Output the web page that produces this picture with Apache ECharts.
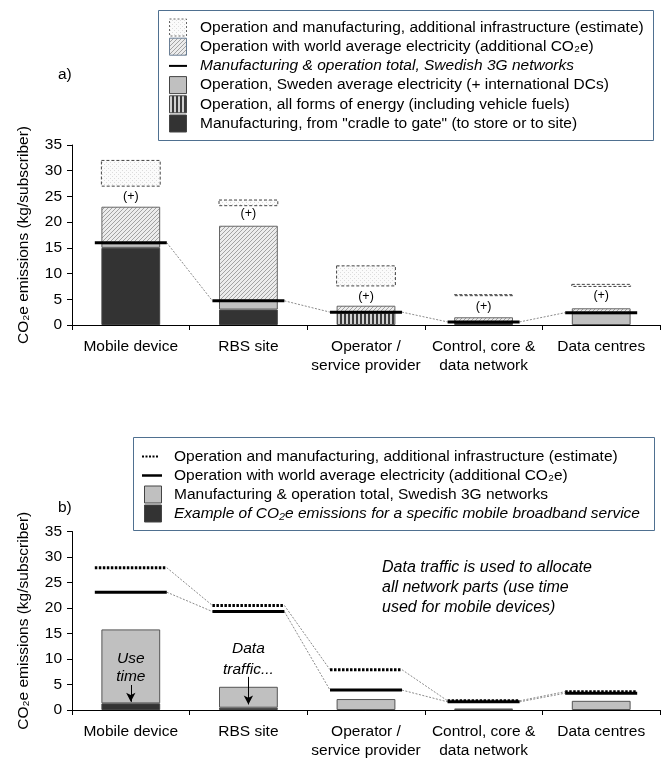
<!DOCTYPE html>
<html>
<head>
<meta charset="utf-8">
<script src="https://cdn.jsdelivr.net/npm/echarts@6/dist/echarts.min.js"></script>
<style>
  html, body { margin: 0; padding: 0; background: #fff; }
  #chart { width: 672px; height: 760px; }
</style>
</head>
<body>
<div id="chart"></div>
<script>
const FONT = 'Liberation Sans, Arial, DejaVu Sans, sans-serif'

const categories = ['Mobile device', 'RBS site', 'Operator /\nservice provider', 'Control, core &\ndata network', 'Data centres']
const yTicks = [0, 5, 10, 15, 20, 25, 30, 35]

// panel a) stacked parts, bottom to top
const manufA = [15, 3, 0, 0.6, 0]
const fuelsA = [0, 0, 2.4, 0, 0]
const swedenA = [0.9, 1.7, 0, 0, 2.3]
const worldA = [7.1, 14.6, 1.35, 0.9, 0.95]
const totalA = [16, 4.7, 2.5, 0.6, 2.4]
const estLowA = [27, 23.2, 7.6, 5.7, 7.5]
const estHighA = [32, 24.3, 11.5, 5.9, 7.9]
const plusA = [25, 21.6, 5.6, 3.6, 5.7]

// panel b)
const exampleB = [1.3, 0.45, 0, 0, 0]
const swedenB = [14.5, 4.1, 2.15, 0.3, 1.8]
const worldB = [23.1, 19.3, 3.9, 1.6, 3.3]
const estB = [27.9, 20.5, 7.9, 1.8, 3.6]

const annoText = ['Use', 'time', 'Data', 'traffic...']
const annoCat = [0, 0, 1, 1]
const annoY = [10, 6.5, 12, 8]
const arrowCat = [0, 1]
const arrowFrom = [4.9, 6.5]
const arrowTo = [1.6, 1.1]

const legendA = [
  'Operation and manufacturing, additional infrastructure (estimate)',
  'Operation with world average electricity (additional CO₂e)',
  'Manufacturing & operation total, Swedish 3G networks',
  'Operation, Sweden average electricity (+ international DCs)',
  'Operation, all forms of energy (including vehicle fuels)',
  'Manufacturing, from "cradle to gate" (to store or to site)',
]
const legendB = [
  'Operation and manufacturing, additional infrastructure (estimate)',
  'Operation with world average electricity (additional CO₂e)',
  'Manufacturing & operation total, Swedish 3G networks',
  'Example of CO₂e emissions for a specific mobile broadband service',
]
const noteB = ['Data traffic is used to allocate', 'all network parts (use time', 'used for mobile devices)']

const DARK = '#333333'
const GRAY = '#c0c0c0'

const makePattern = (w, h, draw) => {
  const c = document.createElement('canvas')
  c.width = w
  c.height = h
  draw(c.getContext('2d'))
  return { image: c, repeat: 'repeat' }
}

const hatch = makePattern(4, 4, (ctx) => {
  ctx.fillStyle = '#ececec'
  ctx.fillRect(0, 0, 4, 4)
  ctx.strokeStyle = '#9a9a9a'
  ctx.lineWidth = 0.9
  ctx.beginPath()
  ctx.moveTo(0, 4); ctx.lineTo(4, 0)
  ctx.moveTo(-1, 1); ctx.lineTo(1, -1)
  ctx.moveTo(3, 5); ctx.lineTo(5, 3)
  ctx.stroke()
})

const stripes = makePattern(4, 4, (ctx) => {
  ctx.fillStyle = '#d0d0d0'
  ctx.fillRect(0, 0, 4, 4)
  ctx.fillStyle = '#3a3a3a'
  ctx.fillRect(0, 0, 2, 4)
})

const dots = makePattern(4, 4, (ctx) => {
  ctx.fillStyle = '#fbfbfb'
  ctx.fillRect(0, 0, 4, 4)
  ctx.fillStyle = '#dcdcdc'
  ctx.fillRect(0, 0, 1, 1)
  ctx.fillRect(2, 2, 1, 1)
})

const empty = (arr) => arr.map((v) => (v ? v : '-'))

const levelRender = (values, style) => (params, api) => {
  const i = api.value(0)
  const band = api.size([1, 0])[0]
  const half = band * 0.306
  const p = api.coord([i, api.value(1)])
  const children = [{
    type: 'line',
    shape: { x1: p[0] - half, y1: p[1], x2: p[0] + half, y2: p[1] },
    style: Object.assign({ stroke: '#000', lineWidth: 3 }, style),
    z2: 10,
  }]
  if (i > 0) {
    const q = api.coord([i - 1, values[i - 1]])
    children.push({
      type: 'line',
      shape: { x1: q[0] + half, y1: q[1], x2: p[0] - half, y2: p[1] },
      style: { stroke: '#8a8a8a', lineWidth: 1, lineDash: [2, 1.5] },
    })
  }
  return { type: 'group', children }
}

const estRender = (params, api) => {
  const i = api.value(0)
  const band = api.size([1, 0])[0]
  const half = band * 0.25
  const top = api.coord([i, api.value(2)])
  const bot = api.coord([i, api.value(1)])
  return {
    type: 'rect',
    shape: { x: top[0] - half, y: top[1], width: half * 2, height: Math.max(bot[1] - top[1], 1) },
    style: { fill: dots, stroke: '#444', lineWidth: 1, lineDash: [3, 2] },
  }
}

const textRender = (texts, fontStyle) => (params, api) => {
  const p = api.coord([api.value(0), api.value(1)])
  return {
    type: 'text',
    style: {
      text: texts[params.dataIndex], x: p[0], y: p[1],
      align: 'center', verticalAlign: 'middle',
      font: fontStyle, fill: '#000',
    },
  }
}

const xAxisBase = (gridIndex) => ({
  type: 'category',
  gridIndex,
  data: categories,
  axisLine: { lineStyle: { color: '#000', width: 1 } },
  axisTick: { show: true, length: 5, lineStyle: { color: '#000' } },
  axisLabel: { color: '#000', fontSize: 15.5, fontFamily: FONT, margin: 12, lineHeight: 19, interval: 0 },
})

const yAxisBase = (gridIndex) => ({
  type: 'value',
  gridIndex,
  min: yTicks[0],
  max: yTicks[yTicks.length - 1],
  interval: yTicks[1] - yTicks[0],
  name: 'CO₂e emissions (kg/subscriber)',
  nameLocation: 'middle',
  nameGap: 40,
  nameTextStyle: { color: '#000', fontSize: 15.5, fontFamily: FONT },
  axisLine: { show: true, lineStyle: { color: '#000', width: 1 } },
  axisTick: { show: true, length: 5, lineStyle: { color: '#000' } },
  axisLabel: { color: '#000', fontSize: 15.5, fontFamily: FONT, margin: 10 },
  splitLine: { show: false },
})

const barBase = (xAxisIndex, stack) => ({
  type: 'bar',
  xAxisIndex,
  yAxisIndex: xAxisIndex,
  stack,
  barWidth: '50%',
  silent: true,
  animation: false,
})

// legends drawn as graphic elements
const legendGraphics = []
const legendBox = (x, y, w, h) => legendGraphics.push({
  type: 'rect', shape: { x, y, width: w, height: h },
  style: { fill: '#fff', stroke: '#4f7090', lineWidth: 1 }, z: 50,
})
const legendText = (x, y, text, italic) => legendGraphics.push({
  type: 'text', x, y, z: 51,
  style: { text, font: (italic ? 'italic ' : '') + '15.5px ' + FONT, fill: '#000', verticalAlign: 'middle' },
})
const legendRect = (x, y, size, fill, extra) => legendGraphics.push({
  type: 'rect', z: 51, shape: { x, y: y - size / 2, width: size, height: size },
  style: Object.assign({ fill, stroke: '#444', lineWidth: 1 }, extra || {}),
})
const legendLine = (x1, x2, y, extra) => legendGraphics.push({
  type: 'line', z: 51, shape: { x1, y1: y, x2, y2: y },
  style: Object.assign({ stroke: '#000', lineWidth: 2 }, extra || {}),
})

legendBox(158.5, 10.5, 495, 130)
const rowA = (k) => 27.5 + k * 19.2
legendRect(169.5, rowA(0), 17, dots, { lineDash: [2, 2], stroke: '#666' })
legendRect(169.5, rowA(1), 17, hatch, { stroke: '#6b7f95' })
legendLine(169, 187, rowA(2))
legendRect(169.5, rowA(3), 17, GRAY)
legendRect(169.5, rowA(4), 17, stripes)
legendRect(169.5, rowA(5), 17, DARK)
legendA.forEach((t, k) => legendText(200, rowA(k), t, k === 2))

legendBox(133.5, 437.5, 521, 93)
const rowB = (k) => 456.5 + k * 19
legendLine(142, 158, rowB(0), { lineDash: [2, 1.5] })
legendLine(142, 162, rowB(1), { lineWidth: 2.5 })
legendRect(144.5, rowB(2), 17, GRAY)
legendRect(144.5, rowB(3), 17, DARK)
legendB.forEach((t, k) => legendText(174, rowB(k), t, k === 3))

const chart = echarts.init(document.getElementById('chart'))

chart.setOption({
  animation: false,
  textStyle: { fontFamily: FONT },
  grid: [
    { left: 72, width: 588, top: 145, height: 180 },
    { left: 72, width: 588, top: 531.5, height: 180 },
  ],
  xAxis: [xAxisBase(0), xAxisBase(1)],
  yAxis: [yAxisBase(0), yAxisBase(1)],
  graphic: [
    { type: 'text', left: 58, top: 67, style: { text: 'a)', font: '15.5px ' + FONT, fill: '#000' } },
    { type: 'text', left: 58, top: 500, style: { text: 'b)', font: '15.5px ' + FONT, fill: '#000' } },
    {
      type: 'text', left: 382, top: 558,
      style: { text: noteB.join('\n'), font: 'italic 16px ' + FONT, lineHeight: 20, fill: '#000' },
    },
    ...legendGraphics,
  ],
  series: [
    // panel a
    Object.assign(barBase(0, 'a'), { name: 'manufA', data: empty(manufA), itemStyle: { color: DARK, borderColor: '#444', borderWidth: 1 } }),
    Object.assign(barBase(0, 'a'), { name: 'fuelsA', data: empty(fuelsA), itemStyle: { color: stripes, borderColor: '#555', borderWidth: 1 } }),
    Object.assign(barBase(0, 'a'), { name: 'swedenA', data: empty(swedenA), itemStyle: { color: GRAY, borderColor: '#555', borderWidth: 1 } }),
    Object.assign(barBase(0, 'a'), { name: 'worldA', data: empty(worldA), itemStyle: { color: hatch, borderColor: '#666', borderWidth: 1 } }),
    {
      type: 'custom', name: 'estA', xAxisIndex: 0, yAxisIndex: 0, silent: true,
      encode: { x: 0, y: [1, 2] },
      data: estLowA.map((v, i) => [i, v, estHighA[i]]),
      renderItem: estRender,
    },
    {
      type: 'custom', name: 'plusA', xAxisIndex: 0, yAxisIndex: 0, silent: true,
      data: plusA.map((v, i) => [i, v]),
      renderItem: textRender(plusA.map(() => '(+)'), '12.5px ' + FONT),
    },
    {
      type: 'custom', name: 'totalA', xAxisIndex: 0, yAxisIndex: 0, silent: true, z: 5,
      data: totalA.map((v, i) => [i, v]),
      renderItem: levelRender(totalA, {}),
    },
    // panel b
    Object.assign(barBase(1, 'b'), { name: 'exampleB', data: empty(exampleB), itemStyle: { color: DARK, borderColor: '#444', borderWidth: 1 } }),
    Object.assign(barBase(1, 'b'), {
      name: 'swedenB', data: empty(swedenB), itemStyle: { color: GRAY, borderColor: '#555', borderWidth: 1 },
      markLine: {
        silent: true,
        symbol: ['none', 'arrow'],
        symbolSize: [7, 9],
        label: { show: false },
        lineStyle: { color: '#000', width: 1, type: 'solid' },
        data: arrowCat.map((c, k) => [
          { coord: [categories[c], arrowFrom[k]] },
          { coord: [categories[c], arrowTo[k]] },
        ]),
      },
    }),
    {
      type: 'custom', name: 'estB', xAxisIndex: 1, yAxisIndex: 1, silent: true, z: 5,
      data: estB.map((v, i) => [i, v]),
      renderItem: levelRender(estB, { lineDash: [2.5, 1.5] }),
    },
    {
      type: 'custom', name: 'worldB', xAxisIndex: 1, yAxisIndex: 1, silent: true, z: 5,
      data: worldB.map((v, i) => [i, v]),
      renderItem: levelRender(worldB, {}),
    },
    {
      type: 'custom', name: 'annoB', xAxisIndex: 1, yAxisIndex: 1, silent: true, z: 6,
      data: annoY.map((v, k) => [annoCat[k], v]),
      renderItem: textRender(annoText, 'italic 15.5px ' + FONT),
    },
  ],
})

window.addEventListener('resize', () => chart.resize())
</script>
</body>
</html>
